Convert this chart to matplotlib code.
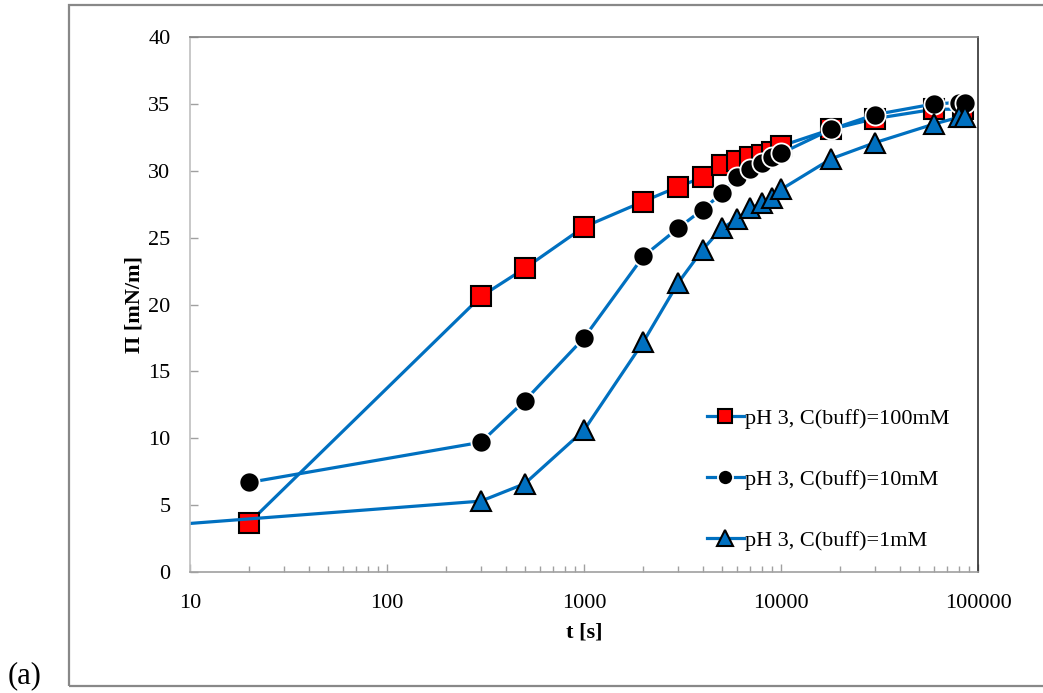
import matplotlib
matplotlib.use('Agg')
import matplotlib.pyplot as plt
from matplotlib.patches import Rectangle
from matplotlib.ticker import FuncFormatter, LogLocator, NullFormatter

# t [s] and surface pressure [mN/m]
t_100 = [20, 300, 500, 1000, 2000, 3000, 4000, 5000, 6000, 7000, 8000, 9000,
         10000, 18000, 30000, 60000, 84000]
pi_100 = [3.7, 20.6, 22.7, 25.8, 27.7, 28.8, 29.5, 30.4, 30.7, 31.0, 31.2,
          31.4, 31.85, 33.1, 33.9, 34.6, 34.6]

t_10 = [20, 300, 500, 1000, 2000, 3000, 4000, 5000, 6000, 7000, 8000, 9000,
        10000, 18000, 30000, 60000, 80000, 86400]
pi_10 = [6.7, 9.7, 12.8, 17.5, 23.6, 25.7, 27.1, 28.3, 29.5, 30.1, 30.6,
         31.0, 31.3, 33.1, 34.2, 35.0, 35.1, 35.1]

t_1 = [1, 300, 500, 1000, 2000, 3000, 4000, 5000, 6000, 7000, 8000, 9000,
       10000, 18000, 30000, 60000, 80000, 86400]
pi_1 = [2.5, 5.3, 6.6, 10.6, 17.2, 21.6, 24.1, 25.7, 26.4, 27.2, 27.6,
        28.0, 28.6, 30.9, 32.1, 33.5, 34.0, 34.0]

labels = ['pH 3, C(buff)=100mM', 'pH 3, C(buff)=10mM', 'pH 3, C(buff)=1mM']

blue = '#0070c0'
plt.rcParams['font.family'] = ['Liberation Serif', 'DejaVu Serif']

fig = plt.figure(figsize=(10.43, 6.93), dpi=100)
ax = fig.add_axes([190/1043, 1 - 572/693, (978-190)/1043, (572-37)/693])

ax.plot(t_100, pi_100, '-s', color=blue, lw=2.3, ms=14, mfc='red', mec='black',
        mew=1.5, label=labels[0])
ax.plot(t_10, pi_10, '-o', color=blue, lw=2.3, ms=14.5, mfc='black', mec='white',
        mew=1.3, label=labels[1])
ax.plot(t_1, pi_1, '-^', color=blue, lw=2.3, ms=15, mfc=blue, mec='black',
        mew=1.5, label=labels[2])

ax.set_xscale('log')
ax.set_xlim(10, 100000)
ax.set_ylim(0, 40)
ax.set_yticks(range(0, 41, 5))
ax.xaxis.set_major_locator(LogLocator(base=10, numticks=10))
ax.xaxis.set_minor_locator(LogLocator(base=10, subs=range(2, 10), numticks=50))
ax.xaxis.set_major_formatter(FuncFormatter(lambda v, p: '%d' % round(v)))
ax.xaxis.set_minor_formatter(NullFormatter())

ax.tick_params(axis='both', which='major', direction='in', length=6,
               color='#a0a0a0', labelsize=16, width=1)
ax.tick_params(axis='x', which='minor', direction='in', length=4,
               color='#a0a0a0', width=1)
ax.tick_params(axis='x', which='major', pad=16)
ax.tick_params(axis='y', which='major', pad=14)

ax.spines['left'].set_color('#bfbfbf')
ax.spines['bottom'].set_color('#a0a0a0')
ax.spines['top'].set_color('#808080')
ax.spines['right'].set_color('#303030')
for s in ax.spines.values():
    s.set_linewidth(1.2)

ax.set_xlabel('t [s]', fontsize=16, fontweight='bold', labelpad=7)
ax.set_ylabel('Π [mN/m]', fontsize=16, fontweight='bold', labelpad=3)

ax.legend(loc='lower right', bbox_to_anchor=(0.987, 0.006), frameon=False,
          fontsize=16, markerscale=0.75, handlelength=1.7, handletextpad=0.05,
          labelspacing=1.82, borderaxespad=0.4)

# outer chart border
fig.patches.append(Rectangle((69/1043, 1 - 686/693), 1.0, (686-5)/693,
                             transform=fig.transFigure, fill=False,
                             edgecolor='#888888', lw=1.6))

fig.text(8/1043, 1 - 676/693, '(a)', fontsize=22, va='center', ha='left')

fig.savefig('out.png', dpi=100)
